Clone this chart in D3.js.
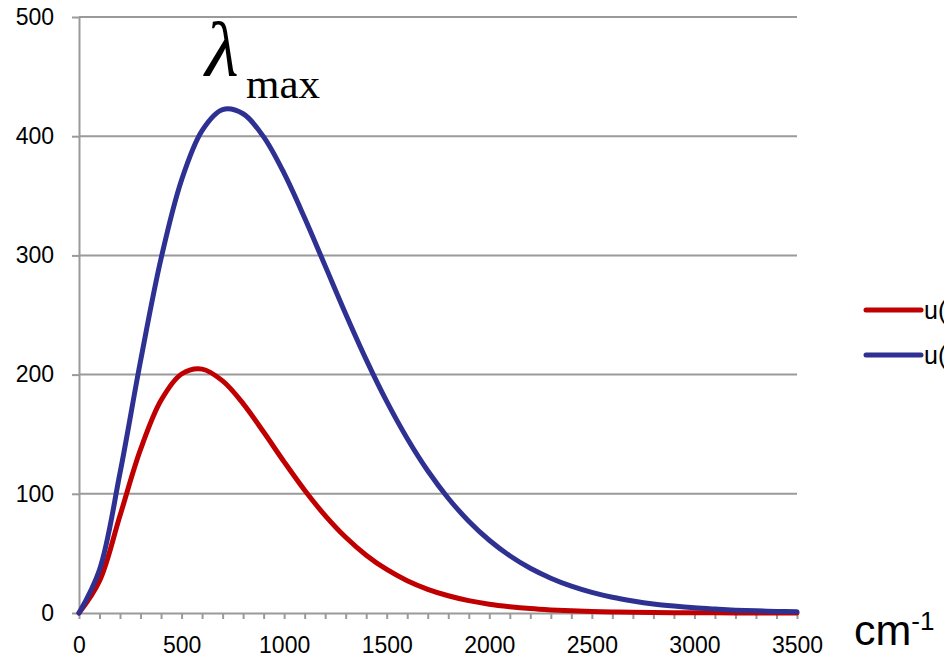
<!DOCTYPE html>
<html>
<head>
<meta charset="utf-8">
<script src="https://cdn.jsdelivr.net/npm/d3@7"></script>
<style>
html,body{margin:0;padding:0;background:#fff;overflow:hidden;}
svg{display:block;}
</style>
</head>
<body>
<svg id="chart" width="944" height="660"></svg>
<script>
// wavenumber (cm^-1)
const wavenumbers = [0,100,200,300,400,500,600,700,800,900,1000,1100,1200,1300,1400,1500,1600,1700,1800,1900,2000,2100,2200,2300,2400,2500,2600,2700,2800,2900,3000,3100,3200,3300,3400,3500];
// u at lower temperature (red)
const seriesRed = [0,26.9,81.8,137.2,178.4,200.5,204.6,194.7,175.7,151.8,126.8,103.0,81.7,63.5,48.5,36.5,27.1,19.9,14.5,10.4,7.4,5.3,3.7,2.6,1.8,1.25,0.86,0.59,0.40,0.27,0.18,0.12,0.08,0.05,0.04,0.02];
// u at higher temperature (blue)
const seriesBlue = [0,36.3,117.6,211.5,297.4,363.3,404.7,422.3,418.8,399.4,368.8,331.4,291.2,250.9,212.6,177.5,146.4,119.3,96.3,77.0,61.0,48.0,37.5,29.2,22.5,17.3,13.2,10.1,7.6,5.8,4.35,3.3,2.4,1.8,1.35,1.0];
const seriesNames = ["u(\u03bd,T=293 K)","u(\u03bd,T=373 K)"];
const xTicks = d3.range(0,3501,100);
const yTicks = [0,100,200,300,400,500];

const svg = d3.select("#chart");
const x = d3.scaleLinear().domain([0,3500]).range([79,797]);
const y = d3.scaleLinear().domain([0,500]).range([613,17]);
const gridColor = "#9a9a9a";
const font = "'Liberation Sans', Arial, sans-serif";

// gridlines
svg.append("g").selectAll("line").data(yTicks.filter(d=>d>0)).join("line")
  .attr("x1",x(0)).attr("x2",x(3500))
  .attr("y1",d=>y(d)).attr("y2",d=>y(d))
  .attr("stroke",gridColor).attr("stroke-width",2);

// y axis
const yAxis = svg.append("g").attr("transform",`translate(${x(0)},0)`)
  .call(d3.axisLeft(y).tickValues(yTicks).tickSize(7).tickSizeOuter(0).tickPadding(18));
yAxis.select(".domain").attr("stroke",gridColor).attr("stroke-width",2);
yAxis.selectAll(".tick line").attr("stroke",gridColor).attr("stroke-width",2);
yAxis.selectAll("text").attr("font-family",font).attr("font-size",23).attr("fill","#000");

// x axis
const xAxis = svg.append("g").attr("transform",`translate(0,${y(0)})`)
  .call(d3.axisBottom(x).tickValues(xTicks).tickSize(6).tickSizeOuter(0).tickPadding(18)
    .tickFormat(d=> d%500===0 ? d : ""));
xAxis.select(".domain").attr("stroke",gridColor).attr("stroke-width",2);
xAxis.selectAll(".tick line").attr("stroke",gridColor).attr("stroke-width",2);
xAxis.selectAll("text").attr("font-family",font).attr("font-size",23).attr("fill","#000");

// curves
const line = d3.line().x((d,i)=>x(wavenumbers[i])).y(d=>y(d)).curve(d3.curveCatmullRom.alpha(0.5));
svg.append("path").datum(seriesRed).attr("d",line).attr("fill","none")
  .attr("stroke","#C00000").attr("stroke-width",5).attr("stroke-linejoin","round").attr("stroke-linecap","round");
svg.append("path").datum(seriesBlue).attr("d",line).attr("fill","none")
  .attr("stroke","#2E3192").attr("stroke-width",5).attr("stroke-linejoin","round").attr("stroke-linecap","round");

// lambda max label
const lam = svg.append("text").attr("x",205).attr("y",76).attr("font-family","'Liberation Serif', 'Times New Roman', serif").attr("fill","#000");
lam.append("tspan").attr("font-style","italic").attr("font-size",78).text("\u03bb");
lam.append("tspan").attr("font-size",43).attr("x",246).attr("y",98).text("max");

// cm-1 label
const cm = svg.append("text").attr("x",854).attr("y",645).attr("font-family",font).attr("fill","#000");
cm.append("tspan").attr("font-size",43).text("cm");
cm.append("tspan").attr("font-size",26).attr("dy",-15).text("-1");

// legend
const colors = ["#C00000","#2E3192"];
const legendY = [310,355];
seriesNames.forEach((n,i)=>{
  svg.append("line").attr("x1",866).attr("x2",921).attr("y1",legendY[i]).attr("y2",legendY[i])
    .attr("stroke",colors[i]).attr("stroke-width",5).attr("stroke-linecap","round");
  svg.append("text").attr("x",924).attr("y",legendY[i]+9).attr("font-family",font).attr("font-size",25)
    .attr("fill","#000").text(n);
});
</script>
</body>
</html>
